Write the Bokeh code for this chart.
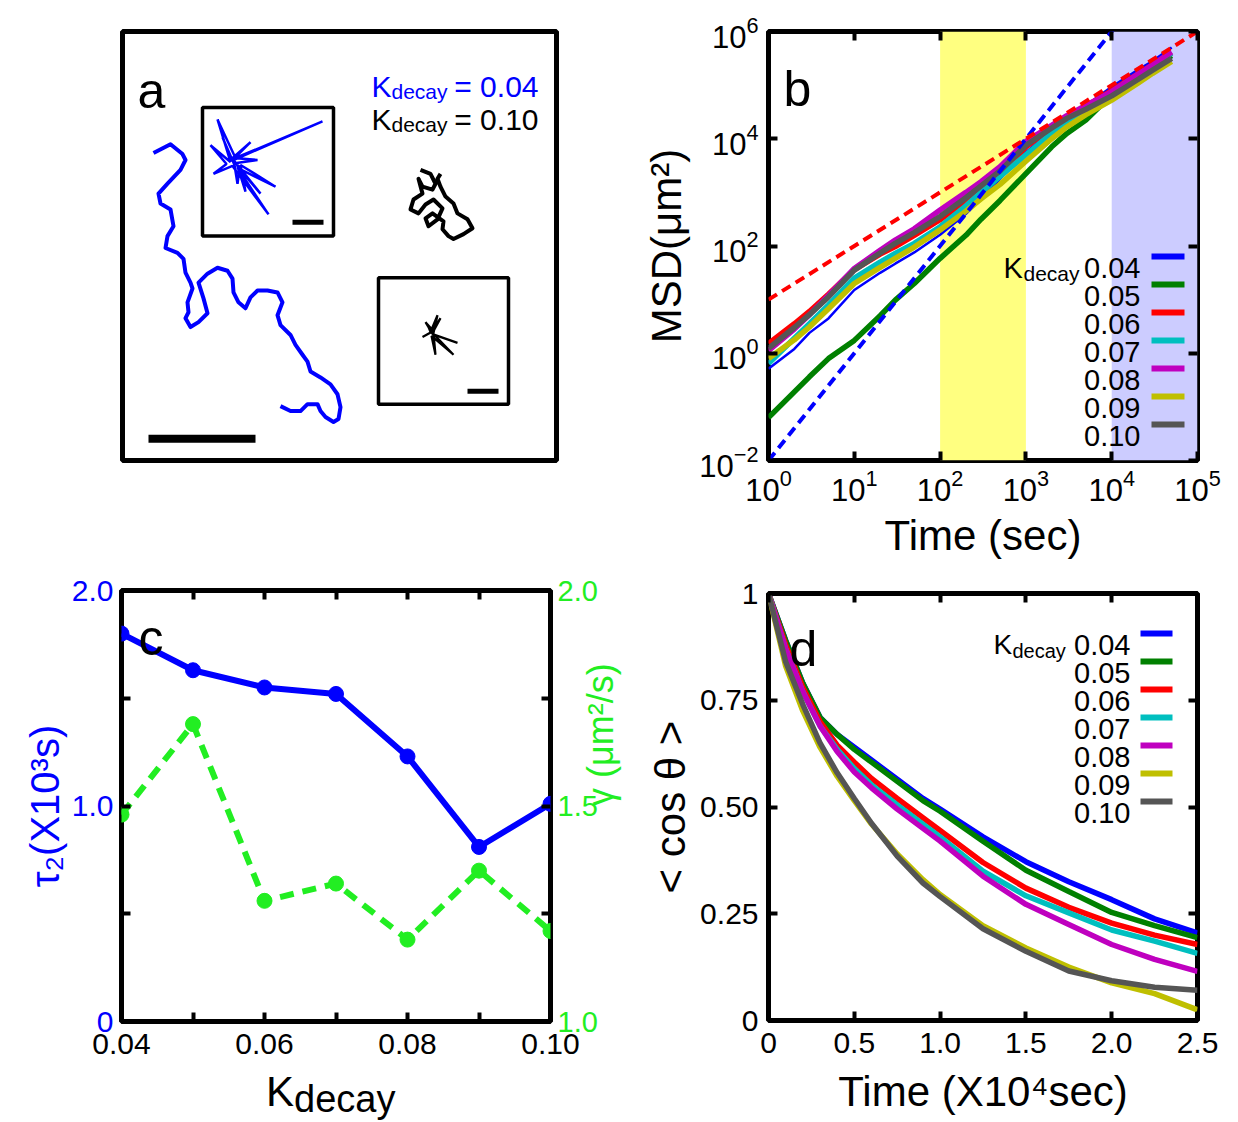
import math
from bokeh.plotting import figure
from bokeh.layouts import row, column
from bokeh.models import Range1d, LinearAxis, FixedTicker, Label, BoxAnnotation, Div
from bokeh.embed import file_html
from bokeh.resources import INLINE

FONT = "Liberation Sans"

# ---------------- data ----------------
# (a) example trajectories (frame units)
traj_k004_x = [31, 48, 60, 63, 58, 45, 36, 38, 48, 51, 45, 43, 55, 61, 63, 68, 70, 65, 66, 63,
               68, 76, 85, 81, 76, 85, 95, 105, 110, 111, 116, 123, 128, 135, 145, 155, 160, 155, 158, 168,
               173, 180, 185, 188, 198, 208, 215, 218, 216, 211, 203, 198, 195, 185, 178, 168, 158]
traj_k004_y = [311, 320, 310, 304, 294, 280, 270, 260, 254, 237, 227, 215, 210, 204, 190, 180, 174, 160, 150, 144,
               135, 140, 149, 164, 180, 189, 195, 192, 184, 170, 160, 154, 165, 172, 172, 170, 160, 147, 137, 127,
               117, 107, 100, 90, 84, 77, 67, 54, 42, 39, 44, 50, 57, 57, 50, 50, 55]
traj_k010_x = [298, 308, 313, 310, 300, 296, 300, 291, 288, 296, 303, 311, 320, 315, 306, 303, 310, 321, 320, 326,
               331, 341, 350, 345, 335, 331, 323, 318, 315, 318]
traj_k010_y = [294, 290, 280, 274, 277, 285, 270, 264, 254, 250, 259, 264, 255, 244, 237, 245, 250, 242, 234, 227,
               224, 229, 235, 244, 250, 260, 267, 277, 285, 290]
star_k004_x = [111, 200, 113, 95, 108, 88, 104, 91, 110, 146, 115, 153, 118, 123, 114, 135, 112, 128, 109, 100,
               112, 115, 117, 138, 111]
star_k004_y = [304, 343, 306, 345, 302, 319, 300, 290, 298, 249, 296, 277, 299, 272, 301, 304, 306, 322, 305, 327,
               299, 280, 295, 270, 304]
star_k010_x = [310, 318, 309, 300, 311, 303, 310, 335, 312, 331, 309, 313, 311, 315, 308, 306, 310]
star_k010_y = [129, 144, 130, 125, 131, 140, 128, 119, 127, 107, 126, 107, 129, 147, 130, 135, 129]
inset_left = [80, 256]
inset_right = [211, 386]
inset_bottom = [227, 57]
inset_top = [357, 185]
bar_x0 = [26, 170, 345]
bar_x1 = [133, 201, 376]
bar_y = [22, 241, 70]

# (b) MSD vs time
msd_time = [1, 2, 3, 5, 10, 20, 30, 50, 100, 200, 300, 500, 1000, 2000, 3000, 5000, 10000, 20000, 30000, 50000]
msd_log_k004 = [-0.29, 0.08, 0.38, 0.65, 1.18, 1.50, 1.67, 1.88, 2.21, 2.60, 2.88, 3.25, 3.75, 4.15, 4.38, 4.62, 4.97, 5.28, 5.45, 5.70]
msd_log_k005 = [-1.20, -0.72, -0.44, -0.10, 0.24, 0.70, 0.99, 1.30, 1.77, 2.20, 2.50, 2.85, 3.35, 3.85, 4.10, 4.35, 4.82, 5.15, 5.33, 5.55]
msd_log_k006 = [0.18, 0.55, 0.78, 1.10, 1.56, 1.85, 1.99, 2.20, 2.49, 2.85, 3.05, 3.35, 3.85, 4.20, 4.40, 4.60, 4.90, 5.20, 5.38, 5.60]
msd_log_k007 = [-0.19, 0.28, 0.55, 0.90, 1.40, 1.70, 1.86, 2.05, 2.36, 2.75, 3.00, 3.30, 3.70, 4.10, 4.33, 4.55, 4.85, 5.17, 5.35, 5.60]
msd_log_k008 = [0.05, 0.45, 0.72, 1.08, 1.58, 1.92, 2.11, 2.32, 2.67, 3.00, 3.20, 3.48, 3.95, 4.25, 4.43, 4.62, 4.88, 5.20, 5.38, 5.62]
msd_log_k009 = [-0.10, 0.25, 0.49, 0.83, 1.30, 1.60, 1.77, 1.98, 2.30, 2.65, 2.88, 3.15, 3.58, 4.00, 4.22, 4.45, 4.72, 5.03, 5.22, 5.44]
msd_log_k010 = [0.09, 0.48, 0.72, 1.05, 1.55, 1.87, 2.05, 2.25, 2.55, 2.90, 3.12, 3.40, 3.88, 4.20, 4.38, 4.55, 4.80, 5.10, 5.28, 5.50]
fit_time = [1, 100000]
fit_ballistic = [0.01, 1e8]
fit_diffusive = [10, 1e6]
band_short = [100, 1000]
band_long = [10000, 100000]

# (c) tau2 and gamma vs Kdecay
kdecay = [0.04, 0.05, 0.06, 0.07, 0.08, 0.09, 0.10]
tau2 = [1.80, 1.63, 1.55, 1.52, 1.23, 0.81, 1.01]
gamma = [1.48, 1.69, 1.28, 1.32, 1.19, 1.35, 1.21]

# (d) <cos theta> vs time (x10^4 s)
cos_time = [0, 0.1, 0.2, 0.3, 0.4, 0.5, 0.6, 0.75, 0.9, 1.0, 1.25, 1.5, 1.75, 2.0, 2.25, 2.5]
cos_k004 = [1.0, 0.89, 0.79, 0.71, 0.67, 0.64, 0.61, 0.565, 0.52, 0.495, 0.43, 0.372, 0.325, 0.283, 0.238, 0.205]
cos_k005 = [1.0, 0.89, 0.79, 0.71, 0.67, 0.635, 0.605, 0.56, 0.515, 0.49, 0.42, 0.352, 0.302, 0.253, 0.222, 0.194]
cos_k006 = [1.0, 0.88, 0.78, 0.70, 0.645, 0.605, 0.567, 0.52, 0.475, 0.445, 0.37, 0.31, 0.265, 0.228, 0.20, 0.178]
cos_k007 = [1.0, 0.87, 0.77, 0.69, 0.635, 0.59, 0.552, 0.505, 0.46, 0.43, 0.35, 0.292, 0.252, 0.212, 0.186, 0.157]
cos_k008 = [1.0, 0.87, 0.77, 0.69, 0.63, 0.582, 0.545, 0.495, 0.45, 0.42, 0.338, 0.272, 0.225, 0.178, 0.143, 0.115]
cos_k009 = [1.0, 0.83, 0.725, 0.64, 0.572, 0.515, 0.46, 0.39, 0.33, 0.295, 0.222, 0.17, 0.125, 0.088, 0.063, 0.025]
cos_k010 = [1.0, 0.84, 0.74, 0.65, 0.58, 0.52, 0.462, 0.385, 0.322, 0.29, 0.215, 0.162, 0.116, 0.093, 0.078, 0.071]

legend_keys = ["0.04", "0.05", "0.06", "0.07", "0.08", "0.09", "0.10"]
series_colors = ["#0000ff", "#008000", "#ff0000", "#00bfbf", "#bf00bf", "#bfbf00", "#555555"]

# ---------------- helpers ----------------
def frame_style(p):
    p.outline_line_color = "black"
    p.outline_line_width = 5
    p.outline_line_alpha = 1.0
    p.background_fill_color = "white"
    p.border_fill_color = "white"


def axis_style(ax, size="30px", color="black", hidden=False):
    ax.axis_line_color = None
    for k in ("major", "minor"):
        setattr(ax, k + "_tick_in", 9)
        setattr(ax, k + "_tick_out", 0)
        setattr(ax, k + "_tick_line_width", 4)
        setattr(ax, k + "_tick_line_color", "black")
    ax.major_label_text_font = FONT
    ax.axis_label_text_font = FONT
    ax.axis_label_text_font_style = "normal"
    ax.axis_label_text_color = "black"
    if hidden:
        ax.major_label_text_font_size = "2px"
        ax.major_label_text_color = None
        ax.major_label_standoff = 0
    else:
        ax.major_label_text_font_size = size
        ax.major_label_text_color = color


def lab(p, x, y, text, size, color="black", align="left", baseline="alphabetic", angle=0.0):
    p.add_layout(Label(x=x, y=y, text=text, text_font=FONT, text_font_size=f"{size}px",
                       text_color=color, text_align=align, text_baseline=baseline, angle=angle))


# ---------------- panel a ----------------
pa = figure(width=640, height=565, x_range=Range1d(0, 434), y_range=Range1d(0, 434),
            x_axis_type=None, y_axis_type=None, output_backend="svg", toolbar_location=None,
            min_border_left=122, min_border_right=84, min_border_top=28, min_border_bottom=103)
frame_style(pa)
pa.grid.visible = False
pa.line(traj_k004_x, traj_k004_y, line_color="#0000ff", line_width=4, line_join="round")
pa.line(traj_k010_x, traj_k010_y, line_color="black", line_width=4, line_join="round")
pa.quad(left=inset_left, right=inset_right, bottom=inset_bottom, top=inset_top,
        fill_color=None, line_color="black", line_width=3.5)
pa.line(star_k004_x, star_k004_y, line_color="#0000ff", line_width=2.5)
pa.line(star_k010_x, star_k010_y, line_color="black", line_width=2.2)
pa.segment(x0=bar_x0[:1], x1=bar_x1[:1], y0=bar_y[:1], y1=bar_y[:1], line_color="black", line_width=8)
pa.segment(x0=bar_x0[1:], x1=bar_x1[1:], y0=bar_y[1:], y1=bar_y[1:], line_color="black", line_width=5)


def ax_a(px):
    return px - 122


def ay_a(py):
    return 462 - py


lab(pa, ax_a(137), ay_a(88), "a", 50)
for i, (txt, col) in enumerate([("= 0.04", "#0000ff"), ("= 0.10", "black")]):
    base = 84 + 33 * i
    lab(pa, ax_a(371), ay_a(base), "K", 30, col)
    lab(pa, ax_a(391), ay_a(base + 5), "decay", 21, col)
    lab(pa, ax_a(538), ay_a(base), txt, 30, col, align="right")

# ---------------- panel b ----------------
pb = figure(width=598, height=565, x_axis_type="log", y_axis_type="log",
            x_range=Range1d(1, 1e5), y_range=Range1d(1e-2, 1e6),
            output_backend="svg", toolbar_location=None,
            min_border_left=128, min_border_right=41, min_border_top=31, min_border_bottom=105)
frame_style(pb)
pb.grid.visible = False
pb.add_layout(BoxAnnotation(left=band_short[0], right=band_short[1], fill_color="#ffff80",
                            fill_alpha=1.0, line_color=None, level="underlay"))
pb.add_layout(BoxAnnotation(left=band_long[0], right=band_long[1], fill_color="#ccccff",
                            fill_alpha=1.0, line_color=None, level="underlay"))
msd_sets = [msd_log_k004, msd_log_k005, msd_log_k006, msd_log_k007, msd_log_k008, msd_log_k009, msd_log_k010]
for i, (vals, col) in enumerate(zip(msd_sets, series_colors)):
    pb.line(msd_time, [10 ** v for v in vals], line_color=col, line_width=2.5 if i == 0 else 5.5)
pb.line(fit_time, fit_ballistic, line_color="#0000ff", line_width=4, line_dash="10 6")
pb.line(fit_time, fit_diffusive, line_color="#ff0000", line_width=4, line_dash="10 6")

xt_b = FixedTicker(ticks=[1, 10, 100, 1000, 1e4, 1e5], minor_ticks=[])
yt_b = FixedTicker(ticks=[1e-2, 1, 1e2, 1e4, 1e6], minor_ticks=[])
pb.xaxis.ticker = xt_b
pb.yaxis.ticker = yt_b
axis_style(pb.xaxis[0], "31px")
axis_style(pb.yaxis[0], "31px")
pb.xaxis.major_label_standoff = 8
pb.yaxis.major_label_standoff = 10
pb.xaxis.axis_label = "Time (sec)"
pb.yaxis.axis_label = "MSD(μm²)"
pb.xaxis.axis_label_text_font_size = "42px"
pb.yaxis.axis_label_text_font_size = "42px"
pb.xaxis.axis_label_standoff = 8
pb.yaxis.axis_label_standoff = 6
tb = LinearAxis(ticker=xt_b)
rb = LinearAxis(ticker=yt_b)
axis_style(tb, hidden=True)
axis_style(rb, hidden=True)
pb.add_layout(tb, "above")
pb.add_layout(rb, "right")

BL, BR, BT, BB = 768, 1197, 31, 460


def bx(px):
    return 10 ** ((px - BL) / (BR - BL) * 5)


def by(py):
    return 10 ** (6 - (py - BT) / (BB - BT) * 8)


lab(pb, bx(783), by(88), "b", 50)
lab(pb, bx(1003), by(267), "K", 29)
lab(pb, bx(1023), by(273), "decay", 21)
for i, (k, col) in enumerate(zip(legend_keys, series_colors)):
    yc = 256 + 28 * i
    lab(pb, bx(1140), by(yc + 11), k, 29, align="right")
    pb.segment(x0=[bx(1151)], x1=[bx(1184)], y0=[by(yc)], y1=[by(yc)], line_color=col, line_width=6)

# ---------------- panel c ----------------
pc = figure(width=644, height=506, x_range=Range1d(0.04, 0.10), y_range=Range1d(0, 2),
            output_backend="svg", toolbar_location=None,
            min_border_left=121, min_border_right=91, min_border_top=25, min_border_bottom=50)
frame_style(pc)
pc.grid.visible = False
pc.extra_y_ranges = {"gamma": Range1d(1.0, 2.0)}
pc.line(kdecay, tau2, line_color="#0000ff", line_width=6)
pc.scatter(kdecay, tau2, marker="circle", size=15, fill_color="#0000ff", line_color="#0000ff")
pc.line(kdecay, gamma, line_color="#22ee22", line_width=6, line_dash="14 9", y_range_name="gamma")
pc.scatter(kdecay, gamma, marker="circle", size=15, fill_color="#22ee22", line_color="#22ee22",
           y_range_name="gamma")

xt_c = FixedTicker(ticks=[0.04, 0.06, 0.08, 0.10], minor_ticks=[0.05, 0.07, 0.09])
yt_c = FixedTicker(ticks=[0, 1, 2], minor_ticks=[0.5, 1.5])
pc.xaxis.ticker = xt_c
pc.yaxis.ticker = yt_c
axis_style(pc.xaxis[0], "30px")
axis_style(pc.yaxis[0], "30px", color="#0000ff")
pc.xaxis.major_label_overrides = {0.04: "0.04", 0.06: "0.06", 0.08: "0.08", 0.10: "0.10"}
pc.yaxis.major_label_overrides = {0: "0", 1: "1.0", 2: "2.0"}
pc.xaxis.major_label_standoff = 12
pc.yaxis.major_label_standoff = 8
pc.yaxis.axis_label = "τ₂(X10³s)"
pc.yaxis.axis_label_text_font_size = "40px"
pc.yaxis.axis_label_text_color = "#0000ff"
pc.yaxis.axis_label_standoff = 2
tc = LinearAxis(ticker=FixedTicker(ticks=[0.04, 0.05, 0.06, 0.07, 0.08, 0.09, 0.10], minor_ticks=[]))
axis_style(tc, hidden=True)
pc.add_layout(tc, "above")
rc = LinearAxis(y_range_name="gamma", ticker=FixedTicker(ticks=[1.0, 1.5, 2.0], minor_ticks=[1.25, 1.75]))
axis_style(rc, "29px", color="#22ee22")
rc.major_label_overrides = {1: "1.0", 1.5: "1.5", 2: "2.0"}
rc.major_label_standoff = 7
rc.axis_label = "γ (μm²/s)"
rc.axis_label_text_font_size = "36px"
rc.axis_label_text_color = "#22ee22"
rc.axis_label_standoff = 0
if "axis_label_orientation" in rc.properties():
    rc.axis_label_orientation = math.pi / 2
pc.add_layout(rc, "right")

CL, CR, CT, CB = 121, 553, 590, 1021


def cx(px):
    return 0.04 + (px - CL) / (CR - CL) * 0.06


def cy(py):
    return (CB - py) / (CB - CT) * 2


lab(pc, cx(138), cy(637), "c", 50)

xlab_c = Div(
    text=('<div style="font-family:\'Liberation Sans\',Arial,sans-serif;font-size:42px;line-height:42px;'
          'margin:0 0 0 266px;padding-top:0px;white-space:nowrap;color:#000000;">'
          'K<span style="font-size:38px;position:relative;top:6px;">decay</span></div>'),
    width=644, height=51, margin=(0, 0, 0, 0))

# ---------------- panel d ----------------
pd_ = figure(width=594, height=557, x_range=Range1d(0, 2.5), y_range=Range1d(0, 1),
             output_backend="svg", toolbar_location=None,
             min_border_left=124, min_border_right=41, min_border_top=28, min_border_bottom=102)
frame_style(pd_)
pd_.grid.visible = False
cos_sets = [cos_k004, cos_k005, cos_k006, cos_k007, cos_k008, cos_k009, cos_k010]
for vals, col in zip(cos_sets, series_colors):
    pd_.line(cos_time, vals, line_color=col, line_width=5.5)
xt_d = FixedTicker(ticks=[0, 0.5, 1.0, 1.5, 2.0, 2.5], minor_ticks=[])
yt_d = FixedTicker(ticks=[0, 0.25, 0.5, 0.75, 1.0], minor_ticks=[])
pd_.xaxis.ticker = xt_d
pd_.yaxis.ticker = yt_d
axis_style(pd_.xaxis[0], "30px")
axis_style(pd_.yaxis[0], "30px")
pd_.xaxis.major_label_overrides = {0: "0", 0.5: "0.5", 1: "1.0", 1.5: "1.5", 2: "2.0", 2.5: "2.5"}
pd_.yaxis.major_label_overrides = {0: "0", 0.25: "0.25", 0.5: "0.50", 0.75: "0.75", 1: "1"}
pd_.xaxis.major_label_standoff = 12
pd_.yaxis.major_label_standoff = 10
pd_.xaxis.axis_label = "Time (X10⁴sec)"
pd_.yaxis.axis_label = "< cos θ >"
pd_.xaxis.axis_label_text_font_size = "42px"
pd_.yaxis.axis_label_text_font_size = "42px"
pd_.xaxis.axis_label_standoff = 12
pd_.yaxis.axis_label_standoff = 3
td = LinearAxis(ticker=xt_d)
rd = LinearAxis(ticker=yt_d)
axis_style(td, hidden=True)
axis_style(rd, hidden=True)
pd_.add_layout(td, "above")
pd_.add_layout(rd, "right")

DL, DR, DT, DB = 768, 1197, 593, 1020


def dx(px):
    return (px - DL) / (DR - DL) * 2.5


def dy(py):
    return (DB - py) / (DB - DT)


lab(pd_, dx(789), dy(648), "d", 50)
lab(pd_, dx(993), dy(644), "K", 28)
lab(pd_, dx(1012), dy(650), "decay", 20)
for i, (k, col) in enumerate(zip(legend_keys, series_colors)):
    yc = 633 + 28 * i
    lab(pd_, dx(1130), dy(yc + 11), k, 29, align="right")
    pd_.segment(x0=[dx(1140)], x1=[dx(1172)], y0=[dy(yc)], y1=[dy(yc)], line_color=col, line_width=6)

layout = column(row(pa, pb, spacing=0),
                row(column(pc, xlab_c, spacing=0), pd_, spacing=0),
                spacing=0)
open("out.html", "w").write(file_html(layout, INLINE))
